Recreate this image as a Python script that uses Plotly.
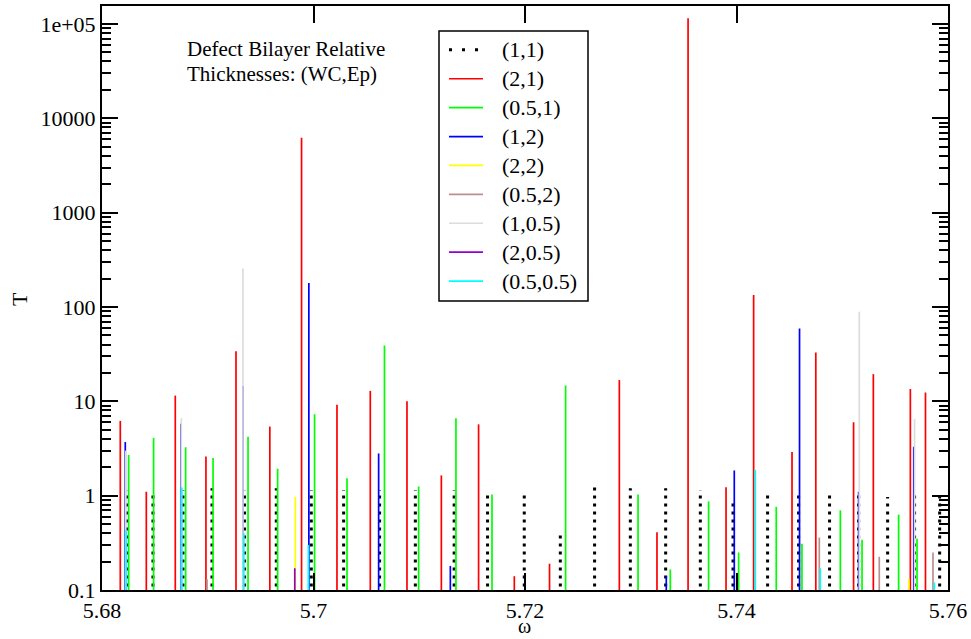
"""
Defect bilayer transmission: T versus omega on a log axis, one spike per resonance.
"""
import plotly.graph_objects as go

# peak centres (omega) and peak transmission T for each defect bilayer
w_1_1 = [5.68236, 5.68482, 5.68766, 5.6904, 5.69348, 5.69648, 5.69979, 5.70285, 5.70625,
         5.70963, 5.7133, 5.71646, 5.71993, 5.72334, 5.72658, 5.72996, 5.7333, 5.73658,
         5.73967, 5.74294, 5.74587, 5.7488, 5.75155, 5.75429, 5.75684, 5.75921]
t_1_1 = [1.14, 1.09, 1.15, 1.2, 1.14, 1.2, 1.15, 1.15, 1.15, 1.15, 1.15, 1.1, 1.05, 0.40,
         1.25, 1.2, 1.2, 1.14, 0.9, 1.1, 1.05, 1.1, 1.05, 0.97, 1.05, 1.05]

w_2_1 = [5.68173, 5.68419, 5.68693, 5.68983, 5.69267, 5.69587, 5.69887, 5.70222, 5.70537,
         5.70884, 5.71209, 5.71561, 5.71899, 5.72232, 5.72892, 5.73248, 5.73542, 5.73901,
         5.74162, 5.74525, 5.7475, 5.75107, 5.75294, 5.75644, 5.75787]
t_2_1 = [6.2, 1.1, 11.5, 2.6, 34, 5.4, 6200, 9.2, 12.9, 10, 1.64, 5.7, 0.14, 0.19, 16.8,
         0.41, 115000, 1.23, 134, 2.9, 33, 6.0, 19.4, 13.5, 12.4]

w_05_1 = [5.68252, 5.68488, 5.68791, 5.6905, 5.69381, 5.69661, 5.7001, 5.70317, 5.70671,
          5.70994, 5.71347, 5.71688, 5.72384, 5.73069, 5.73374, 5.73736, 5.7402, 5.74376,
          5.74619, 5.74982, 5.75187, 5.75533, 5.75707]
t_05_1 = [2.7, 4.1, 3.26, 2.5, 4.2, 1.93, 7.3, 1.53, 39, 1.25, 6.6, 1.03, 14.7, 1.03, 0.165,
          0.87, 0.25, 0.76, 0.31, 0.7, 0.34, 0.63, 0.35]

w_1_2 = [5.6822, 5.68747, 5.69333, 5.69956, 5.70616, 5.71294, 5.73336, 5.73979, 5.74596,
         5.75155, 5.75676]
t_1_2 = [3.7, 5.8, 14.5, 180, 2.8, 0.18, 0.14, 1.85, 59, 1.1, 3.3]

w_2_2 = [5.69828, 5.75629]
t_2_2 = [0.97, 0.13]

w_05_2 = [5.68993, 5.74783, 5.7535, 5.75858]
t_05_2 = [0.13, 0.36, 0.225, 0.25]

w_1_05 = [5.68225, 5.6875, 5.69333, 5.75161, 5.75684]
t_1_05 = [3.0, 6.6, 256, 89, 6.5]

w_2_05 = [5.69823]
t_2_05 = [0.17]

w_05_05 = [5.68228, 5.68755, 5.69341, 5.69951, 5.74178, 5.74792, 5.75871]
t_05_05 = [0.43, 1.22, 0.4, 0.3, 1.88, 0.17, 0.12]

y_tickvals = [0.1, 1, 10, 100, 1000, 10000, 100000]
y_ticktext = ["0.1", "1", "10", "100", "1000", "10000", "1e+05"]
x_tickvals = [5.68, 5.70, 5.72, 5.74, 5.76]
x_ticktext = ["5.68", "5.7", "5.72", "5.74", "5.76"]

FLOOR = 0.05
SERIF = "Liberation Serif, Times New Roman, serif"
# plot frame in page pixels
LEFT, RIGHT, TOP, BOTTOM = 102, 948, 4, 590


def px_x(x):
    """Page pixel column -> paper x."""
    return (x - LEFT) / (RIGHT - LEFT)


def px_y(y):
    """Page pixel row -> paper y."""
    return (BOTTOM - y) / (BOTTOM - TOP)


def spikes(omegas, heights):
    """Turn peak lists into one polyline of vertical spikes separated by gaps."""
    xs, ys = [], []
    for w, h in zip(omegas, heights):
        xs += [w, w, None]
        ys += [FLOOR, h, None]
    return xs, ys


series = [
    ("(1,1)", w_1_1, t_1_1, "black", 3, "3px,5px"),
    ("(2,1)", w_2_1, t_2_1, "#ff0000", 1.7, "solid"),
    ("(0.5,1)", w_05_1, t_05_1, "#00ff00", 1.7, "solid"),
    ("(1,2)", w_1_2, t_1_2, "#0000ff", 1.7, "solid"),
    ("(2,2)", w_2_2, t_2_2, "#ffff00", 1.7, "solid"),
    ("(0.5,2)", w_05_2, t_05_2, "#bc8f8f", 1.7, "solid"),
    ("(1,0.5)", w_1_05, t_1_05, "#dcdcdc", 1.7, "solid"),
    ("(2,0.5)", w_2_05, t_2_05, "#9400d3", 1.7, "solid"),
    ("(0.5,0.5)", w_05_05, t_05_05, "#00ffff", 1.7, "solid"),
]

fig = go.Figure()
for name, ws, ts, color, width, dash in series:
    xs, ys = spikes(ws, ts)
    fig.add_trace(go.Scatter(x=xs, y=ys, mode="lines", name=name, showlegend=False,
                             line={"color": color, "width": width, "dash": dash}))

# legend box drawn by hand so rows keep the original spacing
shapes = [dict(type="rect", xref="paper", yref="paper",
               x0=px_x(439), x1=px_x(588), y0=px_y(300), y1=px_y(29),
               line={"color": "black", "width": 1.5}, fillcolor="white", layer="above")]
annotations = []
for i, (name, _, _, color, width, dash) in enumerate(series):
    row = 48 + 29 * i
    shapes.append(dict(type="line", xref="paper", yref="paper",
                       x0=px_x(449), x1=px_x(483), y0=px_y(row), y1=px_y(row),
                       line={"color": color, "width": 3 if i == 0 else 1.7,
                             "dash": "3px,10px" if i == 0 else "solid"},
                       layer="above"))
    annotations.append(dict(text=name, xref="paper", yref="paper", x=px_x(500), y=px_y(row),
                            xanchor="left", yanchor="middle", showarrow=False,
                            font={"family": SERIF, "size": 22}))

annotations += [
    dict(text="Defect Bilayer Relative", xref="paper", yref="paper", x=px_x(185), y=px_y(47),
         xanchor="left", yanchor="middle", showarrow=False, font={"family": SERIF, "size": 21}),
    dict(text="Thicknesses: (WC,Ep)", xref="paper", yref="paper", x=px_x(185), y=px_y(72),
         xanchor="left", yanchor="middle", showarrow=False, font={"family": SERIF, "size": 21}),
    dict(text="ω", xref="paper", yref="paper", x=px_x(524), y=px_y(639),
         xanchor="center", yanchor="bottom", showarrow=False, font={"family": SERIF, "size": 20}),
    dict(text="T", xref="paper", yref="paper", x=px_x(20), y=px_y(298), textangle=-90,
         xanchor="center", yanchor="middle", showarrow=False, font={"family": SERIF, "size": 22}),
]

fig.update_layout(
    width=971, height=639,
    margin={"l": LEFT, "r": 971 - RIGHT, "t": TOP, "b": 639 - BOTTOM},
    paper_bgcolor="white", plot_bgcolor="white",
    font={"family": SERIF, "size": 22, "color": "black"},
    showlegend=False,
    shapes=shapes,
    annotations=annotations,
)
fig.update_xaxes(range=[5.68, 5.76], tickvals=x_tickvals, ticktext=x_ticktext,
                 showline=True, linecolor="black", linewidth=2, mirror="allticks",
                 ticks="inside", ticklen=17, tickwidth=1.5, tickcolor="black",
                 showgrid=False, zeroline=False, tickfont={"size": 22})
fig.update_yaxes(type="log", range=[-1, 5.19], tickvals=y_tickvals, ticktext=y_ticktext,
                 showline=True, linecolor="black", linewidth=2, mirror="allticks",
                 ticks="inside", ticklen=16, tickwidth=1.5, tickcolor="black",
                 minor={"ticks": "inside", "ticklen": 9, "tickwidth": 1.5,
                        "tickcolor": "black", "dtick": "D1", "showgrid": False},
                 showgrid=False, zeroline=False, tickfont={"size": 22})

# drop the page's default body margin so the figure sits at the window's corner
fig.write_html("out.html", config={"displayModeBar": False},
               post_script="document.body.style.margin = '0';")
